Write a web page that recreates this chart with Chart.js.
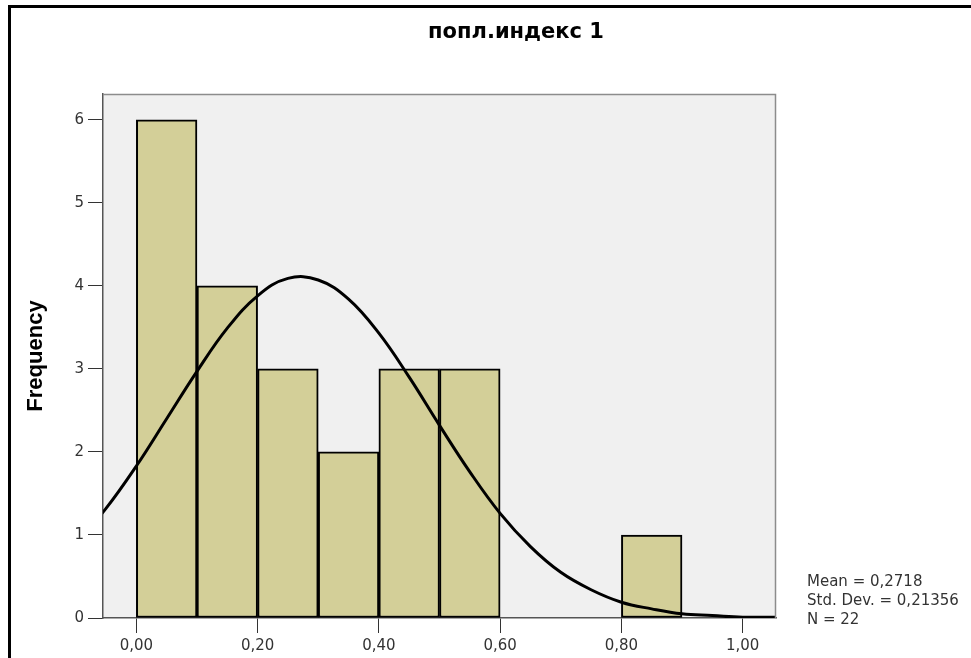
<!DOCTYPE html>
<html>
<head>
<meta charset="utf-8">
<script src="https://cdn.jsdelivr.net/npm/chart.js@4.4.1/dist/chart.umd.min.js"></script>
<style>
  html, body { margin: 0; padding: 0; background: #fff; overflow: hidden; }
  #wrap { width: 971px; height: 658px; }
</style>
</head>
<body>
<div id="wrap"><canvas id="hist"></canvas></div>
<script>
// histogram of попл.индекс 1 (SPSS style)
const chartTitle = 'попл.индекс 1'
const binCenters = [0.05, 0.15, 0.25, 0.35, 0.45, 0.55, 0.85]
const frequencies = [6, 4, 3, 2, 3, 3, 1]

// normal curve as drawn over the bars (runs past both plot edges, clipped)
const curveX = [-0.10, -0.05, 0.00, 0.05, 0.10, 0.15, 0.20, 0.25, 0.30, 0.35, 0.40, 0.45,
                0.50, 0.55, 0.60, 0.65, 0.70, 0.75, 0.80, 0.85, 0.90, 0.95, 1.00, 1.05, 1.10]
const curveY = [0.90, 1.32, 1.83, 2.40, 2.97, 3.49, 3.88, 4.09, 4.07, 3.84, 3.43, 2.90,
                2.32, 1.76, 1.26, 0.86, 0.55, 0.34, 0.19, 0.11, 0.05, 0.03, 0.01, 0.01, 0.00]

const xTicks = [0, 0.2, 0.4, 0.6, 0.8, 1.0]
const xTickLabels = ['0,00', '0,20', '0,40', '0,60', '0,80', '1,00']
const yTicks = [0, 1, 2, 3, 4, 5, 6]
const yTickLabels = ['0', '1', '2', '3', '4', '5', '6']

const statsLines = ['Mean = 0,2718', 'Std. Dev. = 0,21356', 'N = 22']

const tickFont = { family: "'DejaVu Sans', sans-serif", size: 15 }

const decor = {
  id: 'decor',
  beforeDraw(chart) {
    const { ctx, chartArea: a, width, height } = chart
    ctx.save()
    ctx.fillStyle = '#fff'
    ctx.fillRect(0, 0, width, height)
    ctx.fillStyle = '#f0f0f0'
    ctx.fillRect(a.left, a.top, a.right - a.left, a.bottom - a.top)
    ctx.restore()
  },
  afterDraw(chart) {
    const { ctx, chartArea: a, width, height } = chart
    ctx.save()
    // plot frame top/right
    ctx.strokeStyle = '#8c8c8c'
    ctx.lineWidth = 1.5
    ctx.beginPath()
    ctx.moveTo(a.left, a.top + 0.5)
    ctx.lineTo(a.right - 0.5, a.top + 0.5)
    ctx.lineTo(a.right - 0.5, a.bottom)
    ctx.stroke()
    // outer frame (image is cropped on the right and bottom)
    ctx.strokeStyle = '#000'
    ctx.lineWidth = 3
    ctx.beginPath()
    ctx.moveTo(9.5, height)
    ctx.lineTo(9.5, 6.5)
    ctx.lineTo(width, 6.5)
    ctx.stroke()
    // title
    ctx.fillStyle = '#000'
    ctx.font = "bold 21px 'DejaVu Sans', sans-serif"
    ctx.textAlign = 'center'
    ctx.textBaseline = 'alphabetic'
    ctx.fillText(chartTitle, 516, 38)
    // stats block
    ctx.fillStyle = '#333'
    ctx.font = "15px 'DejaVu Sans', sans-serif"
    ctx.textAlign = 'left'
    statsLines.forEach((s, i) => ctx.fillText(s, 807, 586 + i * 19))
    ctx.restore()
  }
}

new Chart(document.getElementById('hist'), {
  data: {
    datasets: [
      {
        type: 'line',
        data: curveX.map((x, i) => ({ x, y: curveY[i] })),
        borderColor: '#000',
        borderWidth: 3,
        pointRadius: 0,
        tension: 0.4,
        order: 0
      },
      {
        type: 'bar',
        data: binCenters.map((x, i) => ({ x, y: frequencies[i] })),
        backgroundColor: '#d3cf98',
        borderColor: '#000',
        borderWidth: 2,
        borderSkipped: false,
        barPercentage: 1,
        categoryPercentage: 1,
        order: 1
      }
    ]
  },
  options: {
    responsive: true,
    maintainAspectRatio: false,
    animation: false,
    layout: { padding: { left: 0, top: 94, right: 195, bottom: 0 } },
    plugins: { legend: { display: false }, tooltip: { enabled: false }, title: { display: false } },
    scales: {
      x: {
        type: 'linear',
        min: -0.055,
        max: 1.055,
        offset: false,
        afterBuildTicks: s => { s.ticks = xTicks.map(v => ({ value: v })) },
        afterFit: s => { s.height = 40 },
        grid: { display: true, drawOnChartArea: false, drawTicks: true, tickLength: 15, color: '#333', offset: false },
        border: { display: true, color: '#555', width: 1.5 },
        ticks: {
          autoSkip: false, maxRotation: 0, padding: 4,
          color: '#333', font: tickFont,
          callback: (v, i) => xTickLabels[i]
        }
      },
      y: {
        type: 'linear',
        min: 0,
        max: 6.31,
        afterBuildTicks: s => { s.ticks = yTicks.map(v => ({ value: v })) },
        afterFit: s => { s.width = 103 },
        grid: { display: true, drawOnChartArea: false, drawTicks: true, tickLength: 15, color: '#333' },
        border: { display: true, color: '#555', width: 1.5 },
        ticks: {
          autoSkip: false, padding: 4,
          color: '#333', font: tickFont,
          callback: (v, i) => yTickLabels[i]
        },
        title: {
          display: true,
          text: 'Frequency',
          color: '#000',
          font: { family: "'Liberation Sans', Arial, sans-serif", size: 22, weight: 'bold' },
          padding: { top: 23, bottom: 0 }
        }
      }
    }
  },
  plugins: [decor]
})
</script>
</body>
</html>
